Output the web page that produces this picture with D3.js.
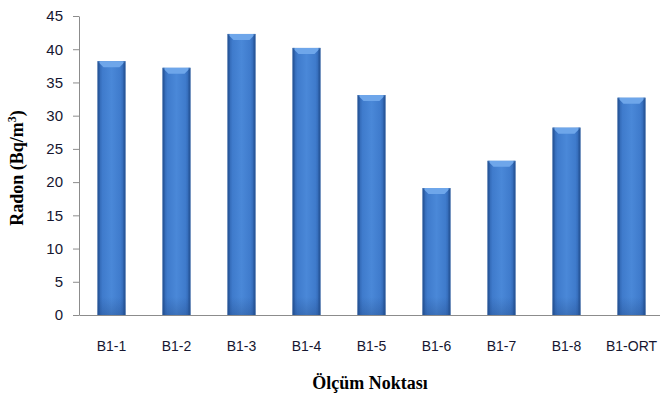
<!DOCTYPE html>
<html>
<head>
<meta charset="utf-8">
<script src="https://cdn.jsdelivr.net/npm/d3@7"></script>
<style>
  body { margin: 0; background: #fff; }
  .tick text { font-family: "Liberation Sans", Arial, sans-serif; fill: #161630; }
</style>
</head>
<body>
<div id="chart"></div>
<script>
// Radon values per measurement point
var categories = ["B1-1", "B1-2", "B1-3", "B1-4", "B1-5", "B1-6", "B1-7", "B1-8", "B1-ORT"];
var radon = [38.2, 37.2, 42.3, 40.2, 33.1, 19.1, 23.2, 28.2, 32.7];
var yTicks = [0, 5, 10, 15, 20, 25, 30, 35, 40, 45];

var data = categories.map((c, i) => ({ key: c, value: radon[i] }));

var margin = { top: 16, right: 0, bottom: 79, left: 79 },
    width = 585,
    height = 394 - margin.top - margin.bottom;

var svg = d3.select("#chart")
    .append("svg")
    .attr("width", 660)
    .attr("height", 394);

var defs = svg.append("defs");
var grad = defs.append("linearGradient")
    .attr("id", "barGrad")
    .attr("x1", "0").attr("x2", "1").attr("y1", "0").attr("y2", "0");
grad.append("stop").attr("offset", "0%").attr("stop-color", "#2b5ea8");
grad.append("stop").attr("offset", "18%").attr("stop-color", "#3f7bcc");
grad.append("stop").attr("offset", "50%").attr("stop-color", "#4a88d8");
grad.append("stop").attr("offset", "82%").attr("stop-color", "#3f7bcc");
grad.append("stop").attr("offset", "100%").attr("stop-color", "#2b5ea8");

var shade = defs.append("linearGradient")
    .attr("id", "bottomShade")
    .attr("x1", "0").attr("x2", "0").attr("y1", "0").attr("y2", "1");
shade.append("stop").attr("offset", "0%").attr("stop-color", "#1c3f78").attr("stop-opacity", 0);
shade.append("stop").attr("offset", "100%").attr("stop-color", "#1c3f78").attr("stop-opacity", 0.3);

var g = svg.append("g")
    .attr("transform", "translate(" + margin.left + "," + margin.top + ")");

var x = d3.scaleBand()
    .domain(categories)
    .range([0, width])
    .paddingInner(0.57)
    .paddingOuter(0.285);

var y = d3.scaleLinear()
    .domain([0, 45])
    .range([height, 0]);

// y axis
var yAxis = g.append("g")
    .call(d3.axisLeft(y).tickValues(yTicks).tickSize(6).tickSizeOuter(0).tickPadding(10));
yAxis.selectAll(".tick text").style("font-size", "15px");
yAxis.selectAll("line, path").attr("stroke", "#8c8c8c");

// x axis
var xAxis = g.append("g")
    .attr("transform", "translate(0," + height + ")")
    .call(d3.axisBottom(x).tickSize(0).tickPadding(26));
xAxis.select(".domain").attr("stroke", "#8c8c8c");
xAxis.selectAll(".tick text").style("font-size", "14px");

// bars
var bars = g.selectAll(".bar")
    .data(data)
    .join("g")
    .attr("class", "bar");

var bw = x.bandwidth();
var bev = 6;

bars.append("rect")
    .attr("x", d => x(d.key))
    .attr("y", d => y(d.value))
    .attr("width", bw)
    .attr("height", d => height - y(d.value))
    .attr("fill", "url(#barGrad)");

bars.append("rect")
    .attr("x", d => x(d.key))
    .attr("y", d => height - 18)
    .attr("width", bw)
    .attr("height", 18)
    .attr("fill", "url(#bottomShade)");

// bevelled top
bars.append("path")
    .attr("d", d => {
        var x0 = x(d.key), x1 = x0 + bw, t = y(d.value);
        return "M" + x0 + "," + t + "L" + x1 + "," + t + "L" + (x1 - bev) + "," + (t + bev) +
            "L" + (x0 + bev) + "," + (t + bev) + "Z";
    })
    .attr("fill", "#6ea6ea");

// side edges
bars.append("rect")
    .attr("x", d => x(d.key))
    .attr("y", d => y(d.value))
    .attr("width", 2)
    .attr("height", d => height - y(d.value))
    .attr("fill", "#24508f")
    .attr("opacity", 0.6);
bars.append("rect")
    .attr("x", d => x(d.key) + bw - 2)
    .attr("y", d => y(d.value))
    .attr("width", 2)
    .attr("height", d => height - y(d.value))
    .attr("fill", "#24508f")
    .attr("opacity", 0.6);

// axis titles
svg.append("text")
    .attr("text-anchor", "middle")
    .attr("x", 370)
    .attr("y", 389)
    .style("font-family", "'Liberation Serif', 'Times New Roman', serif")
    .style("font-weight", "bold")
    .style("font-size", "18px")
    .text("Ölçüm Noktası");

var yt = svg.append("text")
    .attr("text-anchor", "middle")
    .attr("transform", "translate(23,168) rotate(-90)")
    .style("font-family", "'Liberation Serif', 'Times New Roman', serif")
    .style("font-weight", "bold")
    .style("font-size", "18px");
yt.append("tspan").text("Radon (Bq/m");
yt.append("tspan").attr("dy", -7).style("font-size", "12px").text("3");
yt.append("tspan").attr("dy", 7).text(")");
</script>
</body>
</html>
